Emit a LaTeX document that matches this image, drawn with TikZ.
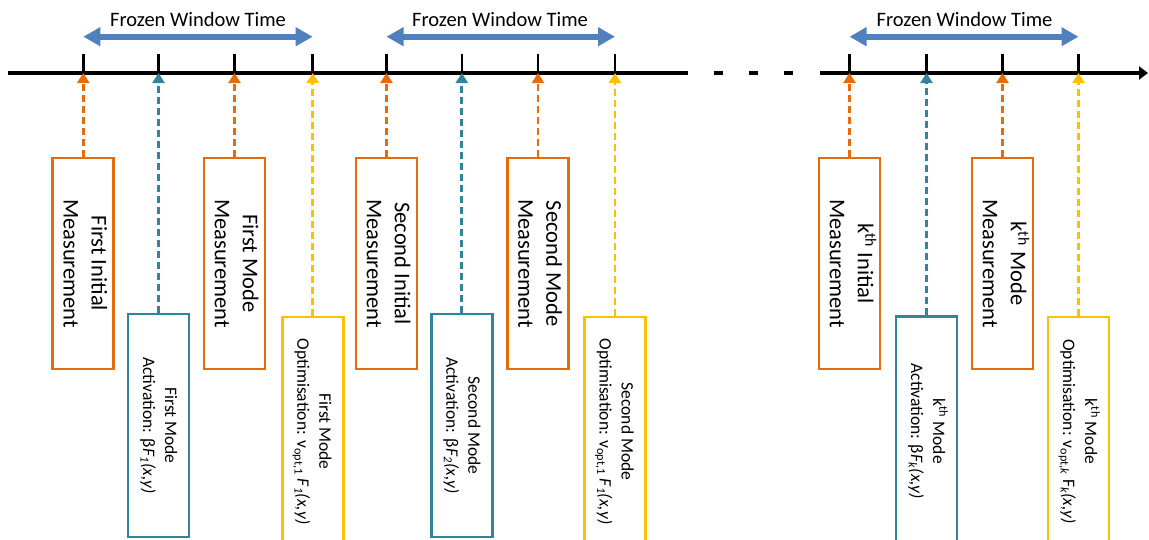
\documentclass[tikz,border=0pt]{standalone}
\usepackage{fontspec}
\setmainfont{Carlito}
\usetikzlibrary{arrows.meta}

\definecolor{mOrange}{RGB}{228,108,10}
\definecolor{mTeal}{RGB}{49,132,155}
\definecolor{mGold}{RGB}{255,192,0}
\definecolor{mBlue}{RGB}{79,129,189}

% rotated two-line label, read from top to bottom
\newcommand\vlabel[1]{\rotatebox{-90}{\begin{tabular}{@{}c@{}}#1\end{tabular}}}
% italic F_i(x,y)
\newcommand\Fxy[1]{\textit{F}\textsubscript{\textit{#1}}\textit{(x,y)}}

\begin{document}
\begin{tikzpicture}[x=1pt,y=-1pt,
  timeaxis/.style={line width=4pt, black},
  tickmark/.style={line width=2.6pt, black},
  meas/.style={draw=mOrange, line width=2.7pt, fill=white, minimum width=61pt,
    minimum height=211pt, inner sep=0pt, font=\fontsize{22.5}{28}\selectfont},
  act/.style={draw=mTeal, line width=2.7pt, fill=white, minimum width=61pt,
    inner sep=0pt, font=\fontsize{17.5}{22}\selectfont},
  optbox/.style={draw=mGold, line width=2.7pt, fill=white, minimum width=61pt,
    minimum height=229pt, inner sep=0pt, font=\fontsize{17.5}{22}\selectfont},
  link/.style={line width=2.8pt, dash pattern=on 7pt off 4pt,
    -{Triangle[length=10pt,width=12pt]}},
  window/.style={draw=mBlue, line width=6pt,
    {Triangle[length=17pt,width=18pt]}-{Triangle[length=17pt,width=18pt]}},
  wintext/.style={font=\fontsize{20.5}{24}\selectfont, anchor=base, inner sep=0pt}
]
\useasboundingbox (0,0) rectangle (1149,539);
\clip (0,0) rectangle (1149,539);

% time axis
\coordinate (ax0) at (8,73);
\coordinate (ax1) at (688,73);
\coordinate (ax2) at (820,73);
\coordinate (ax3) at (1148,73);
\coordinate (gap0) at (714,73);
\coordinate (gap1) at (794,73);
\draw[timeaxis] (ax0) -- (ax1);
\draw[timeaxis, dash pattern=on 9pt off 26pt] (gap0) -- (gap1);
\draw[timeaxis, -{Triangle[length=9pt,width=13pt]}] (ax2) -- (ax3);

% event instants on the axis
\foreach \n/\x in {a1/83.3, a2/158.5, a3/234.5, a4/312.7,
                   b1/386.5, b2/461.8, b3/538, b4/615,
                   k1/849.5, k2/926.5, k3/1002.5, k4/1078.5}{
  \coordinate (\n) at (\x,73);
  \draw[tickmark] (\n) -- ++(0,-19);
}

% frozen windows
\coordinate (wa0) at (83.3,36.7);  \coordinate (wa1) at (312.7,36.7);
\coordinate (wb0) at (386.5,36.7); \coordinate (wb1) at (615,36.7);
\coordinate (wk0) at (849.5,36.7); \coordinate (wk1) at (1078.5,36.7);
\draw[window] (wa0) -- (wa1);
\draw[window] (wb0) -- (wb1);
\draw[window] (wk0) -- (wk1);
\node[wintext] (fa) at (198,26.7) {Frozen Window Time};
\node[wintext] (fb) at (500,26.7) {Frozen Window Time};
\node[wintext] (fk) at (964.5,26.7) {Frozen Window Time};

% first mode
\node[meas] (m1) at (83.3,263.5) {\vlabel{First Initial\\Measurement}};
\node[act, minimum height=223pt] (v1) at (158.5,425.5) {\vlabel{First Mode\\Activation: β\Fxy{1}}};
\node[meas] (n1) at (234.5,263.5) {\vlabel{First Mode\\Measurement}};
\node[optbox] (o1) at (312.7,431.5) {\vlabel{First Mode\\Optimisation: v\textsubscript{opt,1} \Fxy{1}}};

% second mode
\node[meas] (m2) at (386.5,263.5) {\vlabel{Second Initial\\Measurement}};
\node[act, minimum height=223pt] (v2) at (461.8,425.5) {\vlabel{Second Mode\\Activation: β\Fxy{2}}};
\node[meas] (n2) at (538,263.5) {\vlabel{Second Mode\\Measurement}};
\node[optbox] (o2) at (615,431.5) {\vlabel{Second Mode\\Optimisation: v\textsubscript{opt,1} \Fxy{1}}};

% k-th mode
\node[meas] (mk) at (849.5,263.5) {\vlabel{k\textsuperscript{th} Initial\\Measurement}};
\node[act, minimum height=229pt] (vk) at (926.5,431.3) {\vlabel{k\textsuperscript{th} Mode\\Activation: β\Fxy{k}}};
\node[meas] (nk) at (1002.5,263.5) {\vlabel{k\textsuperscript{th} Mode\\Measurement}};
\node[optbox] (ok) at (1078.5,431.5) {\vlabel{k\textsuperscript{th} Mode\\Optimisation: v\textsubscript{opt,\textit{k}} F\textsubscript{\textit{k}}\textit{(x,y)}}};

% links from each step to its instant
\draw[link, mOrange] (m1.north) -- (a1);
\draw[link, mTeal]   (v1.north) -- (a2);
\draw[link, mOrange] (n1.north) -- (a3);
\draw[link, mGold]   (o1.north) -- (a4);
\draw[link, mOrange] (m2.north) -- (b1);
\draw[link, mTeal]   (v2.north) -- (b2);
\draw[link, mOrange] (n2.north) -- (b3);
\draw[link, mGold]   (o2.north) -- (b4);
\draw[link, mOrange] (mk.north) -- (k1);
\draw[link, mTeal]   (vk.north) -- (k2);
\draw[link, mOrange] (nk.north) -- (k3);
\draw[link, mGold]   (ok.north) -- (k4);
\end{tikzpicture}
\end{document}
